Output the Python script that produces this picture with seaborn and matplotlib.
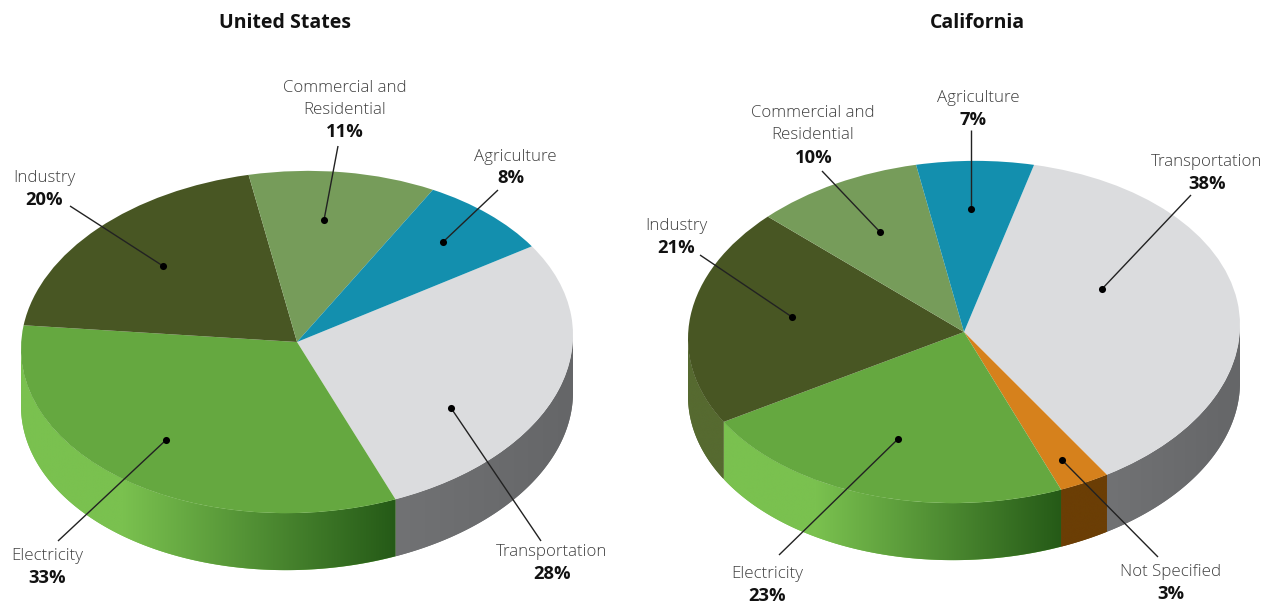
import numpy as np
import matplotlib
matplotlib.use("Agg")
import matplotlib.pyplot as plt
from matplotlib.patches import Polygon
from matplotlib.transforms import Affine2D
import seaborn as sns

# ---- data ----
us_categories = ["Transportation", "Electricity", "Industry", "Commercial and\nResidential", "Agriculture"]
us_values = [28, 33, 20, 11, 8]
ca_categories = ["Transportation", "Not Specified", "Electricity", "Industry", "Commercial and\nResidential", "Agriculture"]
ca_values = [38, 3, 23, 21, 10, 7]

# ---- style ----
W, H = 1269, 603
top_colors = {"Transportation": "#DBDCDE", "Electricity": "#65A840", "Industry": "#485623",
              "Commercial and\nResidential": "#769C5A", "Agriculture": "#138FAE", "Not Specified": "#D6811C"}
side_colors = {"Transportation": ("#717274", "#656668", 0.0), "Electricity": ("#7AC14F", "#255A17", 0.27),
               "Industry": ("#566A30", "#566A30", 0.0), "Not Specified": ("#6B3E05", "#6B3E05", 0.0),
               "Commercial and\nResidential": ("#5F7F47", "#5F7F47", 0.0), "Agriculture": ("#0F7189", "#0F7189", 0.0)}
RX, RY, DEPTH = 276, 171, 57
TILT = 0.04
FONT = "Open Sans"
LABEL_SIZE = 12.2
PCT_SIZE = 13.2
TITLE_SIZE = 14

sns.set_theme(style="white")
plt.rcParams["font.family"] = [FONT, "DejaVu Sans"]
fig = plt.figure(figsize=(W / 100, H / 100), dpi=100, facecolor="white")


def panel(x0, width, cx, cy, title, title_x, categories, values, startangle, labels):
    ax = fig.add_axes([x0 / W, 0, width / W, 1])
    wedges, _ = ax.pie(values, startangle=startangle, counterclock=False, radius=1,
                       colors=[top_colors[c] for c in categories],
                       wedgeprops={"linewidth": 0, "zorder": 3})
    shear = Affine2D.from_values(1, TILT, 0, 1, 0, 0) + ax.transData
    d = DEPTH / RY
    for w, cat in zip(wedges, categories):
        w.set_transform(shear)
        a1, a2 = w.theta1 % 360, w.theta2 % 360
        if a2 <= a1:
            a2 += 360
        segs = []
        for lo, hi in ((180, 360), (540, 720), (-180, 0)):
            s, e = max(a1, lo), min(a2, hi)
            if e > s:
                segs.append((s, e))
        for s, e in segs:
            t = np.radians(np.linspace(s, e, 200))
            xs, ys = np.cos(t), np.sin(t)
            poly = np.column_stack([np.r_[xs, xs[::-1]], np.r_[ys, ys[::-1] - d]])
            c0, c1, stop = side_colors[cat]
            patch = Polygon(poly, closed=True, facecolor=c0, edgecolor="none", zorder=1, transform=shear)
            ax.add_patch(patch)
            cmap = sns.blend_palette([c0, c1], n_colors=256, as_cmap=True)
            g = np.clip((np.linspace(0, 1, 512) - stop) / (1 - stop), 0, 1)[None, :]
            im = ax.imshow(g, cmap=cmap, vmin=0, vmax=1, aspect="auto", zorder=2, interpolation="bilinear",
                           extent=(xs.min(), xs.max(), (ys - d).min() - 0.1, ys.max() + 0.1))
            im.set_clip_path(patch)

    def dx(px):
        return (np.asarray(px, float) - cx) / RX

    def dy(py):
        return (cy - np.asarray(py, float)) / RY

    dots_x, dots_y = [], []
    for name, pct, nx, ny, px_, py_, lx, ly, ex, ey in labels:
        ax.text(dx(nx), dy(ny + 2), name, ha="center", va="center", fontsize=LABEL_SIZE, color="#404040",
                fontweight=300, linespacing=1.43, zorder=6)
        ax.text(dx(px_), dy(py_ + 1), pct, ha="center", va="center", fontsize=PCT_SIZE, color="#111111",
                fontweight="bold", zorder=6)
        ax.plot(dx([lx, ex]), dy([ly, ey]), color="#222222", lw=1.0, zorder=5, solid_capstyle="butt")
        dots_x.append(float(dx(ex)))
        dots_y.append(float(dy(ey)))
    sns.scatterplot(x=dots_x, y=dots_y, color="black", s=26, linewidth=0, ax=ax, zorder=7, legend=False)
    ax.text(dx(title_x), dy(23), title, ha="center", va="center", fontsize=TITLE_SIZE, fontweight="bold", color="#111111")
    ax.set_aspect("auto")
    ax.set_xlim((x0 - cx) / RX, (x0 + width - cx) / RX)
    ax.set_ylim((cy - H) / RY, cy / RY)
    ax.axis("off")


us_labels = [
    ("Commercial and\nResidential", "11%", 345, 97, 345, 131, 338, 146, 324, 220),
    ("Agriculture", "8%", 515, 155, 511, 177, 498, 190, 443, 242),
    ("Industry", "20%", 44, 176, 44, 199, 70, 206, 163, 266),
    ("Electricity", "33%", 47, 554, 47, 577, 58, 541, 166, 440),
    ("Transportation", "28%", 552, 550, 552, 573, 541, 541, 451, 408),
]
ca_labels = [
    ("Agriculture", "7%", 978, 96, 973, 119, 971, 130, 971, 209),
    ("Commercial and\nResidential", "10%", 813, 122, 814, 157, 822, 171, 880, 232),
    ("Industry", "21%", 676, 224, 676, 247, 700, 255, 792, 317),
    ("Transportation", "38%", 1207, 160, 1207, 183, 1191, 195, 1102, 289),
    ("Electricity", "23%", 767, 572, 767, 595, 779, 555, 898, 439),
    ("Not Specified", "3%", 1171, 570, 1171, 593, 1158, 557, 1062, 460),
]

panel(0, 634, 297, 342, "United States", 285, us_categories, us_values, 31.7, us_labels)
panel(634, 635, 964, 332, "California", 977, ca_categories, ca_values, 75.3, ca_labels)

fig.savefig("out.png", dpi=100, facecolor="white")
